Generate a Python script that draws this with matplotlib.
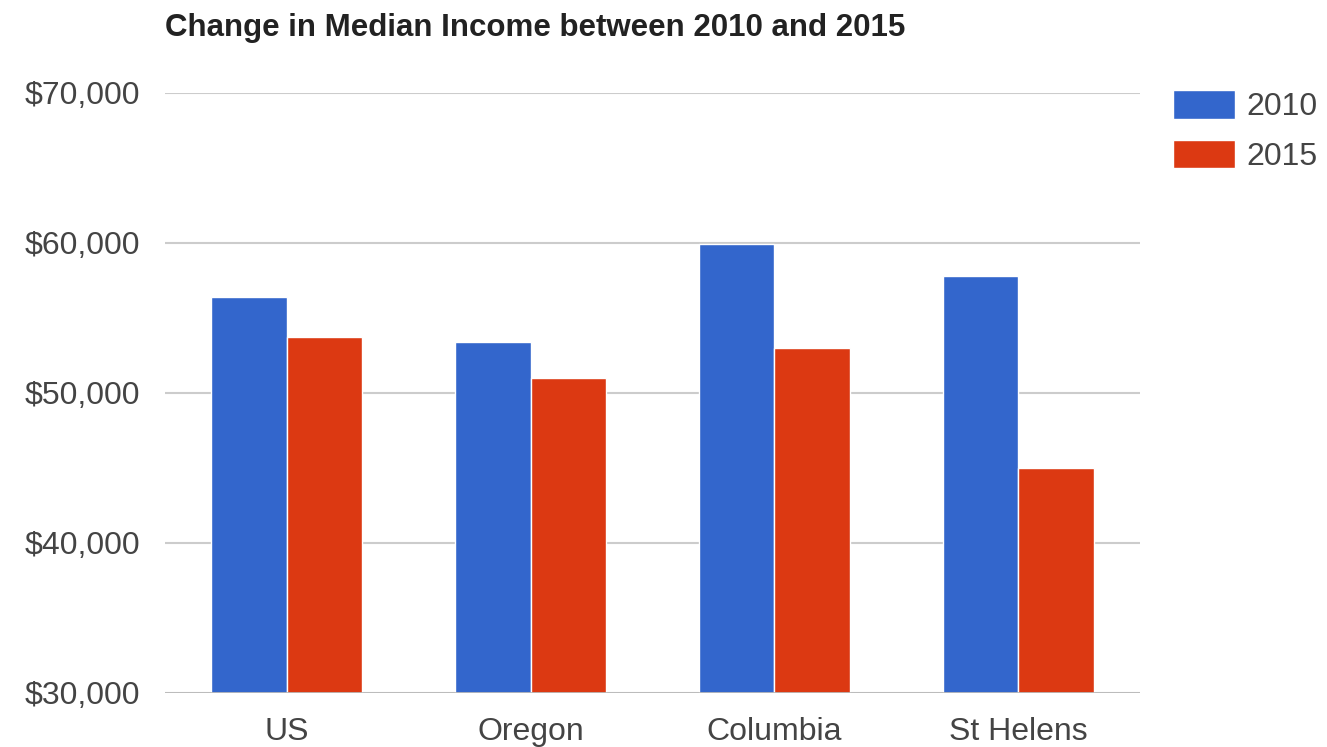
import matplotlib.pyplot as plt
import numpy as np
from matplotlib.ticker import FuncFormatter

# median household income by place
places = ["US", "Oregon", "Columbia", "St Helens"]
income_2010 = [56400, 53400, 59900, 57800]
income_2015 = [53700, 51000, 53000, 45000]
years = ["2010", "2015"]

plt.rcParams['font.family'] = ['Liberation Sans', 'DejaVu Sans']

fig = plt.figure(figsize=(13.27, 7.47), dpi=100)
ax = fig.add_axes([165 / 1327, 54 / 747, 975 / 1327, 600 / 747])

x = np.arange(len(places))
w = 0.31
b1 = ax.bar(x - w / 2, income_2010, w, color="#3366cc", edgecolor="white", linewidth=1, label=years[0], zorder=3)
b2 = ax.bar(x + w / 2, income_2015, w, color="#dc3912", edgecolor="white", linewidth=1, label=years[1], zorder=3)

ax.set_xlim(-0.5, 3.5)
ax.set_ylim(30000, 70000)
ax.set_yticks([30000, 40000, 50000, 60000, 70000])
ax.yaxis.set_major_formatter(FuncFormatter(lambda v, p: "${:,.0f}".format(v)))
ax.set_xticks(x)
ax.set_xticklabels(places)

ax.grid(axis="y", color="#cccccc", linewidth=1.5, zorder=0)
ax.axhline(30000, color="#bbbbbb", linewidth=2, zorder=4)
for s in ax.spines.values():
    s.set_visible(False)
ax.tick_params(axis="both", length=0, labelsize=23, colors="#444444")
ax.tick_params(axis="y", pad=18)
ax.tick_params(axis="x", pad=17)

fig.text(165 / 1327, 1 - 28 / 747, "Change in Median Income between 2010 and 2015",
         fontsize=22.5, fontweight="bold", color="#222222", va="center", ha="left")

ax.legend(handles=[b1, b2], loc="upper left", bbox_to_anchor=(1173 / 1327, 1 - 90 / 747),
          bbox_transform=fig.transFigure, frameon=False, fontsize=23, handlelength=1.95,
          handleheight=1.0, handletextpad=0.35, labelspacing=0.55, borderpad=0,
          borderaxespad=0, labelcolor="#444444")

fig.savefig("out.png", dpi=100)
